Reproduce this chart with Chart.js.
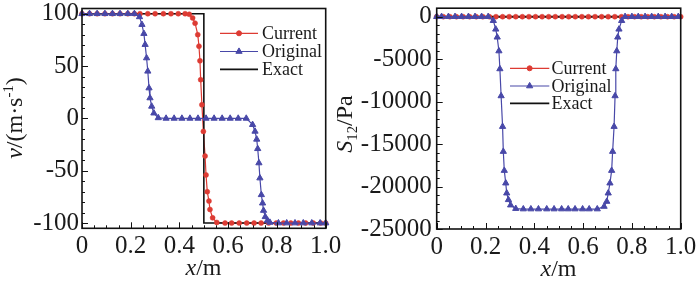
<!DOCTYPE html>
<html><head><meta charset="utf-8">
<script src="https://cdn.jsdelivr.net/npm/chart.js@4.4.1/dist/chart.umd.min.js"></script>
<style>
html,body{margin:0;padding:0;background:#fff;width:700px;height:281px;overflow:hidden;position:relative}
#c1{position:absolute;left:0;top:0}
#c2{position:absolute;left:330px;top:0}
</style></head><body>
<canvas id="c1" width="350" height="281"></canvas>
<canvas id="c2" width="370" height="281"></canvas>
<script>
// ---------- DATA ----------
const seriesNames = ['Current', 'Original', 'Exact'];

// Left panel: velocity v (m/s) vs x (m)
const vCurrentX = [0,0.031,0.062,0.094,0.125,0.156,0.188,0.215,0.238,0.270,0.300,0.334,0.365,0.395,0.423,0.440,0.454,0.464,0.475,0.480,0.484,0.487,0.492,0.498,0.505,0.509,0.514,0.521,0.525,0.536,0.553,0.587,0.614,0.645,0.676,0.706,0.735,0.766,0.797,0.827,0.857,0.888,0.918,0.949,0.979,1.0];
const vCurrentY = [100,100,100,100,100,100,100,100,100,100,100,100,100,100,100,99.5,96,91,80,69,55,37,13,-12.4,-36,-54,-70,-79,-87,-95,-99.4,-100,-100,-100,-100,-100,-100,-100,-100,-100,-100,-100,-100,-100,-100,-100];
const vOriginalX = [0,0.031,0.062,0.094,0.125,0.156,0.188,0.215,0.236,0.246,0.254,0.259,0.265,0.270,0.275,0.279,0.286,0.295,0.313,0.345,0.378,0.410,0.443,0.476,0.509,0.542,0.575,0.608,0.641,0.674,0.700,0.710,0.717,0.721,0.726,0.730,0.736,0.741,0.745,0.752,0.761,0.771,0.806,0.840,0.874,0.908,0.943,0.977,1.0];
const vOriginalY = [100,100,100,100,100,100,100,100,97,89.6,81,70.5,57.7,45,29,19.5,11.5,5,0.5,0,0,0,0,0,0,0,0,0,0,0,-6,-12.4,-20,-29,-42.6,-57,-73,-81,-88,-94,-97.5,-99.4,-100,-100,-100,-100,-100,-100,-100];
const vExactX = [0,0.5,0.5,1.0];
const vExactY = [100,100,-100,-100];

// Right panel: shear stress S12 (Pa) vs x (m)
const sCurrentX = [0,0.027,0.054,0.081,0.108,0.135,0.162,0.189,0.216,0.243,0.270,0.297,0.324,0.351,0.378,0.405,0.432,0.459,0.486,0.514,0.541,0.568,0.595,0.622,0.649,0.676,0.703,0.730,0.757,0.784,0.811,0.838,0.865,0.892,0.919,0.946,0.973,1.0];
const sCurrentY = [0,0,0,0,0,0,0,0,0,0,0,0,0,0,0,0,0,0,0,0,0,0,0,0,0,0,0,0,0,0,0,0,0,0,0,0,0,0];
const sOriginalX = [0,0.020,0.048,0.075,0.102,0.130,0.157,0.184,0.211,0.232,0.242,0.248,0.255,0.259,0.264,0.270,0.273,0.277,0.283,0.287,0.294,0.303,0.324,0.355,0.386,0.417,0.451,0.481,0.512,0.539,0.567,0.598,0.625,0.658,0.686,0.697,0.703,0.710,0.717,0.721,0.727,0.731,0.734,0.738,0.742,0.747,0.758,0.772,0.800,0.826,0.854,0.881,0.908,0.936,0.963,0.990];
const sOriginalY = [0,0,0,0,0,0,0,0,0,-470,-1480,-2420,-4040,-6150,-9330,-12940,-15880,-18120,-19600,-20780,-21560,-22190,-22600,-22650,-22650,-22650,-22650,-22650,-22650,-22650,-22650,-22650,-22650,-22650,-22350,-21760,-20780,-19600,-18120,-15880,-12940,-9330,-6150,-4040,-2420,-1480,-470,0,0,0,0,0,0,0,0,0];
const sExactX = [0,1.0];
const sExactY = [0,0];

// Tick values and labels
const xTickValues = [0,0.2,0.4,0.6,0.8,1.0];
const xTickLabels = ['0','0.2','0.4','0.6','0.8','1.0'];
const vTickValues = [-100,-50,0,50,100];
const vTickLabels = ['-100','-50','0','50','100'];
const sTickValues = [-25000,-20000,-15000,-10000,-5000,0];
const sTickLabels = ['-25000','-20000','-15000','-10000','-5000','0'];

// ---------- STYLE ----------
const RED = '#dd3b33';
const BLUE = '#4848a8';
const BLACK = '#111111';
const SERIF = '"Liberation Serif", "Times New Roman", serif';
const TXT = '#1a1a1a';
const TICK_FONT = 25;

function pts(xs, ys) { return xs.map((x, i) => ({x: x, y: ys[i]})); }
function range(a, b, step) { const r = []; for (let v = a; v <= b + 1e-9; v += step) r.push(+v.toFixed(6)); return r; }

function framePlugin(xMinor, yMinor) {
  return {
    id: 'frameTicks',
    afterDatasetsDraw(chart) {
      const ctx = chart.ctx, a = chart.chartArea, sx = chart.scales.x, sy = chart.scales.y;
      ctx.save();
      ctx.strokeStyle = BLACK; ctx.lineWidth = 1;
      ctx.beginPath();
      xMinor.forEach(v => { const p = Math.round(sx.getPixelForValue(v)) + 0.5; ctx.moveTo(p, a.bottom); ctx.lineTo(p, a.bottom - 3); });
      xTickValues.forEach(v => { const p = Math.round(sx.getPixelForValue(v)) + 0.5; ctx.moveTo(p, a.bottom); ctx.lineTo(p, a.bottom - 6); });
      yMinor.forEach(v => { const p = Math.round(sy.getPixelForValue(v)) + 0.5; ctx.moveTo(a.left, p); ctx.lineTo(a.left + 3, p); });
      chart.options.yMajor.forEach(v => { const p = Math.round(sy.getPixelForValue(v)) + 0.5; ctx.moveTo(a.left, p); ctx.lineTo(a.left + 6, p); });
      ctx.stroke();
      ctx.lineWidth = 1.6;
      ctx.strokeRect(a.left, a.top, a.right - a.left, a.bottom - a.top);
      ctx.restore();
    }
  };
}

function drawRuns(ctx, runs, size) {
  let total = 0;
  const parts = runs.map(r => {
    const s = (r.sup || r.sub) ? size * 0.62 : size;
    const font = (r.it ? 'italic ' : '') + s + 'px ' + SERIF;
    ctx.font = font;
    const w = ctx.measureText(r.t).width;
    total += w;
    return {t: r.t, font: font, w: w, dy: r.sup ? -size * 0.36 : (r.sub ? size * 0.22 : 0)};
  });
  let x = -total / 2;
  parts.forEach(p => { ctx.font = p.font; ctx.fillText(p.t, x, p.dy); x += p.w; });
}

function titlePlugin(xTitle, yTitle) {
  return {
    id: 'axisTitles',
    afterDraw(chart) {
      const ctx = chart.ctx;
      ctx.save();
      ctx.fillStyle = TXT; ctx.textBaseline = 'alphabetic'; ctx.textAlign = 'left';
      ctx.save(); ctx.translate(xTitle.cx, xTitle.by); drawRuns(ctx, xTitle.runs, 24); ctx.restore();
      ctx.save(); ctx.translate(yTitle.bx, yTitle.cy); ctx.rotate(-Math.PI / 2); drawRuns(ctx, yTitle.runs, 24); ctx.restore();
      ctx.restore();
    }
  };
}

function legendPlugin(lg) {
  const styles = [
    {color: RED, marker: 'circle', r: 2.5, lw: 1.2},
    {color: BLUE, marker: 'triangle', r: 3.6, lw: 1.2},
    {color: BLACK, marker: null, r: 0, lw: 1.8}
  ];
  return {
    id: 'customLegend',
    afterDraw(chart) {
      const ctx = chart.ctx;
      ctx.save();
      seriesNames.forEach((name, i) => {
        const st = styles[i], y = lg.ys[i];
        ctx.strokeStyle = st.color; ctx.lineWidth = st.lw;
        ctx.beginPath(); ctx.moveTo(lg.x0, y); ctx.lineTo(lg.x1, y); ctx.stroke();
        if (st.marker) {
          ctx.fillStyle = st.color; ctx.strokeStyle = st.color; ctx.lineWidth = 1;
          Chart.helpers.drawPoint(ctx, {pointStyle: st.marker, radius: st.r, rotation: 0, borderWidth: 1}, (lg.x0 + lg.x1) / 2, y);
        }
        ctx.fillStyle = TXT; ctx.font = '18px ' + SERIF; ctx.textBaseline = 'middle'; ctx.textAlign = 'left';
        ctx.fillText(name, lg.tx, y + 1);
      });
      ctx.restore();
    }
  };
}

function makeChart(canvasId, cfg) {
  const W = cfg.W;
  return new Chart(document.getElementById(canvasId), {
    type: 'line',
    data: {
      datasets: [
        {label: seriesNames[1], data: pts(cfg.origX, cfg.origY), borderColor: BLUE, backgroundColor: BLUE, borderWidth: 1.2, pointStyle: 'triangle', pointRadius: 3.6, pointBorderWidth: 1, pointBackgroundColor: BLUE, pointBorderColor: BLUE, tension: 0, order: 0, clip: 8},
        {label: seriesNames[0] + ' markers', data: pts(cfg.curX, cfg.curY), showLine: false, pointStyle: 'circle', pointRadius: 2.5, pointBorderWidth: 0.5, pointBackgroundColor: RED, pointBorderColor: RED, order: 1, clip: 8},
        {label: seriesNames[2], data: pts(cfg.exX, cfg.exY), borderColor: BLACK, borderWidth: cfg.exW, pointRadius: 0, tension: 0, order: 2, clip: 8},
        {label: seriesNames[0], data: pts(cfg.curX, cfg.curY), borderColor: RED, backgroundColor: RED, borderWidth: 1.2, pointRadius: 0, tension: 0, order: 3, clip: 8}
      ]
    },
    options: {
      responsive: false, animation: false, devicePixelRatio: 1,
      yMajor: cfg.yTicks,
      layout: {autoPadding: false, padding: {left: 0, right: W - cfg.right, top: cfg.top, bottom: 0}},
      plugins: {legend: {display: false}, tooltip: {enabled: false}},
      scales: {
        x: {
          type: 'linear', min: 0, max: 1,
          afterBuildTicks: s => { s.ticks = xTickValues.map(v => ({value: v})); },
          afterFit: s => { s.height = 281 - cfg.bottom; s.paddingLeft = 0; s.paddingRight = 0; },
          ticks: {callback: (v, i) => xTickLabels[i], font: {family: SERIF, size: TICK_FONT}, color: TXT, padding: 3, maxRotation: 0, autoSkip: false},
          grid: {display: false, drawTicks: false}, border: {display: false}
        },
        y: {
          type: 'linear', min: cfg.ymin, max: cfg.ymax,
          afterBuildTicks: s => { s.ticks = cfg.yTicks.map(v => ({value: v})); },
          afterFit: s => { s.width = cfg.left; s.paddingTop = 0; s.paddingBottom = 0; },
          ticks: {callback: (v, i) => cfg.yLabels[i], font: {family: SERIF, size: TICK_FONT}, color: TXT, padding: cfg.yPad, autoSkip: false},
          grid: {display: false, drawTicks: false}, border: {display: false}
        }
      }
    },
    plugins: [framePlugin(cfg.xMinor, cfg.yMinor), titlePlugin(cfg.xTitle, cfg.yTitle), legendPlugin(cfg.legend)]
  });
}

makeChart('c1', {
  W: 350, left: 82, right: 325.7, top: 8.5, bottom: 228.3,
  ymin: -105, ymax: 105, yTicks: vTickValues, yLabels: vTickLabels, yPad: 3,
  xMinor: range(0, 1, 0.05), yMinor: range(-100, 100, 10),
  curX: vCurrentX, curY: vCurrentY, origX: vOriginalX, origY: vOriginalY, exX: vExactX, exY: vExactY, exW: 1.6,
  xTitle: {cx: 203.5, by: 275, runs: [{t: 'x', it: true}, {t: '/m'}]},
  yTitle: {bx: 22, cy: 118, runs: [{t: 'v', it: true}, {t: '/(m·s'}, {t: '-1', sup: true}, {t: ')'}]},
  legend: {x0: 220, x1: 258, tx: 262, ys: [33.3, 51.5, 69.3]}
});

makeChart('c2', {
  W: 370, left: 106.7, right: 350.7, top: 8.2, bottom: 229,
  ymin: -25000, ymax: 1000, yTicks: sTickValues, yLabels: sTickLabels, yPad: 5,
  xMinor: range(0, 1, 0.05), yMinor: range(-25000, 1000, 1000),
  curX: sCurrentX, curY: sCurrentY, origX: sOriginalX, origY: sOriginalY, exX: sExactX, exY: sExactY, exW: 2,
  xTitle: {cx: 228.5, by: 276, runs: [{t: 'x', it: true}, {t: '/m'}]},
  yTitle: {bx: 22, cy: 124, runs: [{t: 'S', it: true}, {t: '12', sub: true}, {t: '/Pa'}]},
  legend: {x0: 180, x1: 219.3, tx: 221.5, ys: [68.3, 86, 103.3]}
});
</script>
</body></html>
